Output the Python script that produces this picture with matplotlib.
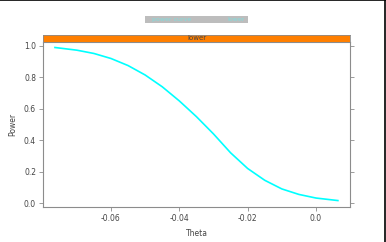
import matplotlib

matplotlib.use("Agg")

import matplotlib.pyplot as plt
from matplotlib.lines import Line2D
from matplotlib.patches import Rectangle

theta = [-0.0764, -0.070, -0.065, -0.060, -0.055, -0.050, -0.045, -0.040,
         -0.035, -0.030, -0.025, -0.020, -0.015, -0.010, -0.005, 0.000,
         0.0064]
power = [0.990, 0.973, 0.952, 0.920, 0.875, 0.815, 0.740, 0.650,
         0.550, 0.440, 0.320, 0.220, 0.145, 0.090, 0.055, 0.032,
         0.016]
strip_label = "lower"
legend_labels = ["power curve", "lower"]
x_ticks = [-0.06, -0.04, -0.02, 0.0]
x_tick_labels = ["-0.06", "-0.04", "-0.02", "0.0"]
y_ticks = [0.0, 0.2, 0.4, 0.6, 0.8, 1.0]
y_tick_labels = ["0.0", "0.2", "0.4", "0.6", "0.8", "1.0"]

W, H = 386, 242
fig = plt.figure(figsize=(W / 100, H / 100), dpi=100)
fig.patch.set_facecolor("white")

# panel: x 43..350, y 42..207 (pixels from top)
ax = fig.add_axes([43 / W, 1 - 207 / H, (350 - 43) / W, (207 - 42) / H])
ax.plot(theta, power, color="#00FFFF", linewidth=1.2, solid_joinstyle="round")
ax.set_xlim(-0.0799, 0.00995)
ax.set_ylim(-0.025, 1.025)

grey = "#8c8c8c"
for side in ax.spines.values():
    side.set_color(grey)
    side.set_linewidth(0.8)
ax.tick_params(axis="both", direction="out", length=3, width=0.6, color=grey,
               labelsize=5.5, labelcolor="#444444", pad=2,
               top=True, right=True, labeltop=False, labelright=False)
ax.set_xticks(x_ticks, x_tick_labels)
ax.set_yticks(y_ticks, y_tick_labels)
ax.set_xlabel("Theta", fontsize=5.5, color="#444444", labelpad=4)
ax.set_ylabel("Power", fontsize=5.5, color="#444444", labelpad=5)

# orange strip above panel
strip = fig.add_axes([43 / W, 1 - 42 / H, (350 - 43) / W, 7 / H])
strip.set_facecolor("#FF7F00")
strip.set_xticks([])
strip.set_yticks([])
for side in strip.spines.values():
    side.set_color(grey)
    side.set_linewidth(0.6)
strip.text(0.5, 0.5, strip_label, ha="center", va="center", fontsize=5,
           color="#444444", transform=strip.transAxes)

# legend key box
fig.patches.append(Rectangle((145 / W, 1 - 23 / H), 103 / W, 7 / H,
                             transform=fig.transFigure, facecolor="#bdbdbd",
                             edgecolor="none"))
fig.text(172 / W, 1 - 19.5 / H, legend_labels[0], ha="center", va="center",
         fontsize=4.5, color="#7fdede")
fig.text(236 / W, 1 - 19.5 / H, legend_labels[1], ha="center", va="center",
         fontsize=4.5, color="#7fdede")

# outer frame lines (top and right)
fig.lines.append(Line2D([0, 1], [0.998, 0.998], transform=fig.transFigure,
                        color="black", linewidth=1.2))
fig.lines.append(Line2D([0.998, 0.998], [0, 1], transform=fig.transFigure,
                        color="black", linewidth=1.2))

fig.savefig("out.png", dpi=100)
